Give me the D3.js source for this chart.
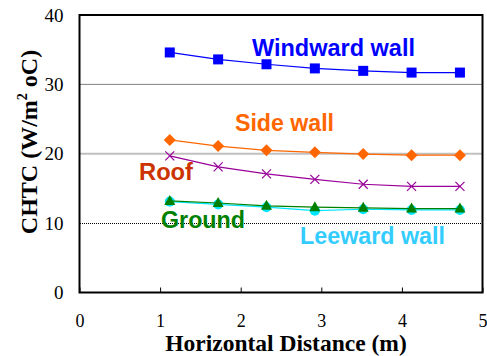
<!DOCTYPE html>
<html><head><meta charset="utf-8">
<script src="https://cdn.jsdelivr.net/npm/d3@7"></script>
<style>body{margin:0;background:#fff}svg{display:block}</style>
</head><body>
<script>
const xValues = [1.12, 1.72, 2.32, 2.92, 3.52, 4.12, 4.72];
const windward = [34.6, 33.6, 32.9, 32.3, 31.95, 31.7, 31.7];
const sideWall = [22.0, 21.1, 20.5, 20.2, 19.95, 19.8, 19.8];
const roof = [19.7, 18.1, 17.1, 16.3, 15.6, 15.3, 15.3];
const ground = [13.2, 12.9, 12.5, 12.3, 12.2, 12.1, 12.1];
const leeward = [13.1, 12.7, 12.3, 11.8, 12.0, 11.9, 11.9];
const xTicks = [0, 1, 2, 3, 4, 5];
const yTicks = [0, 10, 20, 30, 40];

const W = 487, H = 356;
const m = {l: 79.5, r: 4.5, t: 15, b: 63.5};
const svg = d3.select("body").append("svg").attr("width", W).attr("height", H);
const x = d3.scaleLinear().domain([0, 5]).range([m.l, W - m.r]);
const y = d3.scaleLinear().domain([0, 40]).range([H - m.b, m.t]);
const serif = "Liberation Serif, Times New Roman, serif";

// gridlines
svg.append("line").attr("x1", x(0)).attr("x2", x(5)).attr("y1", y(30)).attr("y2", y(30))
  .attr("stroke", "#808080").attr("stroke-width", 1);
svg.append("line").attr("x1", x(0)).attr("x2", x(5)).attr("y1", y(20)).attr("y2", y(20))
  .attr("stroke", "#c0c0c0").attr("stroke-width", 2);
svg.append("line").attr("x1", x(0)).attr("x2", x(5)).attr("y1", Math.round(y(10)) + 0.5).attr("y2", Math.round(y(10)) + 0.5)
  .attr("stroke", "#000").attr("stroke-width", 1).attr("stroke-dasharray", "1,1").attr("shape-rendering", "crispEdges");

// frame
svg.append("rect").attr("x", x(0)).attr("y", y(40)).attr("width", x(5) - x(0)).attr("height", y(0) - y(40))
  .attr("fill", "none").attr("stroke", "#000").attr("stroke-width", 2);

// x axis
const xAxis = d3.axisBottom(x).tickValues(xTicks).tickFormat(d3.format("d")).tickSizeInner(-5).tickSizeOuter(0).tickPadding(21.5);
const gx = svg.append("g").attr("transform", `translate(0,${y(0)})`).call(xAxis);
gx.select(".domain").remove();
gx.selectAll(".tick line").attr("stroke", "#000").attr("stroke-width", 1);
gx.selectAll("text").attr("font-family", serif).attr("font-size", 18).attr("fill", "#000");

const yAxis = d3.axisLeft(y).tickValues(yTicks).tickFormat(d3.format("d")).tickSize(0).tickPadding(16);
const gy = svg.append("g").attr("transform", `translate(${x(0)},0)`).call(yAxis);
gy.select(".domain").remove();
gy.selectAll("text").attr("font-family", serif).attr("font-size", 19).attr("fill", "#000");

// axis titles
svg.append("text").attr("x", 286).attr("y", 351).attr("text-anchor", "middle")
  .attr("font-family", serif).attr("font-weight", "bold").attr("font-size", 23.5)
  .text("Horizontal Distance (m)");
const yt = svg.append("text").attr("transform", "translate(37,142) rotate(-90)").attr("text-anchor", "middle")
  .attr("font-family", serif).attr("font-weight", "bold").attr("font-size", 24);
yt.append("tspan").text("CHTC (W/m");
yt.append("tspan").attr("dy", -10).attr("font-size", 14).text("2");
yt.append("tspan").attr("dy", 10).text(" oC)");

const line = d3.line().x((d, i) => x(xValues[i])).y(d => y(d));
function series(vals, color, marker) {
  const g = svg.append("g");
  g.append("path").datum(vals).attr("d", line).attr("fill", "none").attr("stroke", color).attr("stroke-width", 1.2);
  const pts = g.selectAll("g").data(vals).join("g").attr("transform", (d, i) => `translate(${x(xValues[i])},${y(d)})`);
  marker(pts, color);
}
const sq = (p, c) => p.append("rect").attr("x", -5).attr("y", -5).attr("width", 10).attr("height", 10).attr("fill", c);
const dia = (p, c) => p.append("path").attr("d", "M0,-6L6,0L0,6L-6,0Z").attr("fill", c);
const cross = (p, c) => p.append("path").attr("d", "M-4.5,-4.5L4.5,4.5M-4.5,4.5L4.5,-4.5").attr("stroke", c).attr("stroke-width", 1.2);
const tri = (p, c) => p.append("path").attr("d", "M0,-6L5.5,4L-5.5,4Z").attr("fill", c);
const circ = (p, c) => p.append("circle").attr("r", 5).attr("fill", c);

series(leeward, "#00e5ff", circ);
series(ground, "#008000", tri);
series(roof, "#990099", cross);
series(sideWall, "#ff6600", dia);
series(windward, "#0000ff", sq);

// labels
const lab = (t, xx, yy, c, w) => svg.append("text").attr("x", xx).attr("y", yy)
  .attr("font-family", "Liberation Sans, Arial, sans-serif").attr("font-weight", "bold").attr("font-size", 23)
  .attr("textLength", w).attr("lengthAdjust", "spacingAndGlyphs")
  .attr("fill", c).text(t);
lab("Windward wall", 252, 56, "#0000ff", 163);
lab("Side wall", 235, 131, "#ff6600", 99);
lab("Roof", 139, 180, "#cc3300", 54);
lab("Ground", 161, 228, "#008000", 84);
lab("Leeward wall", 300, 244, "#33ccff", 145);
</script>
</body></html>
